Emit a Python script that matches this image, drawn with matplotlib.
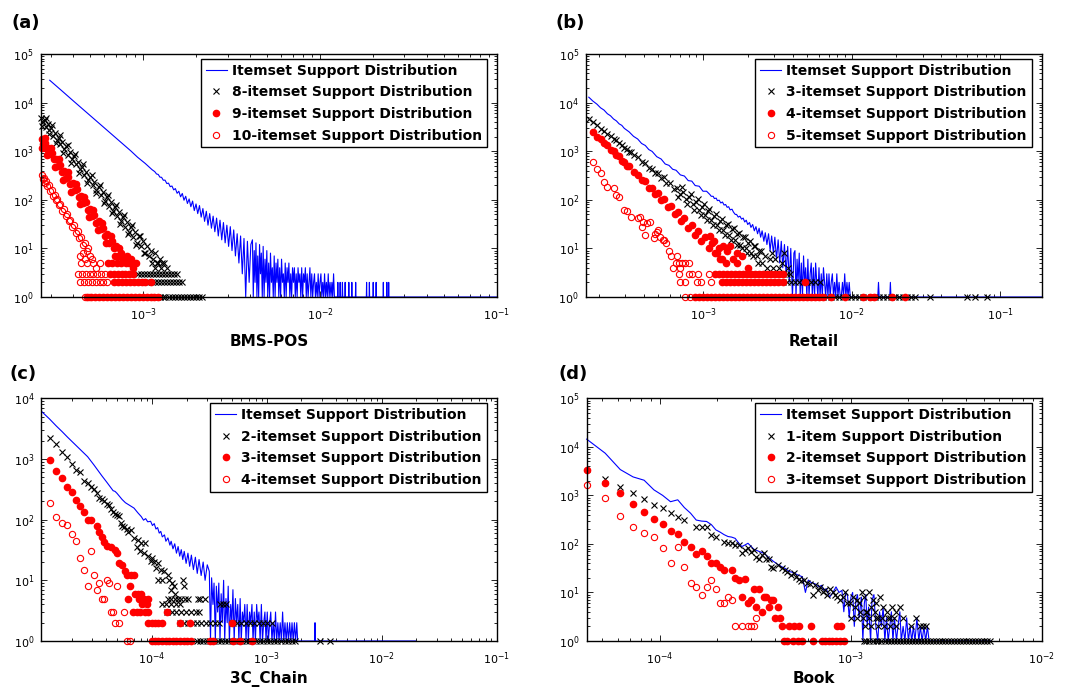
import numpy as np
import matplotlib.pyplot as plt

# number of transactions in each dataset, support = count / N
bms_N = 515597
retail_N = 88162
chain_N = 545000
book_N = 96800

# (support count, number of itemsets having that support)
bms_all = [(153, 28800), (165, 22700), (180, 17200), (195, 13300), (210, 10500), (230, 7900), (250, 6050),
           (275, 4470), (300, 3390), (330, 2500), (360, 1900), (400, 1360), (440, 1010), (480, 750), (530, 560),
           (580, 415), (600, 380), (614, 340), (628, 332), (642, 292), (656, 290), (671, 252), (686, 254),
           (702, 216), (718, 220), (734, 186), (751, 192), (768, 160), (785, 170), (803, 136), (821, 150),
           (840, 115), (859, 135), (878, 98), (898, 118), (918, 84), (939, 104), (960, 72), (982, 94), (1004, 60),
           (1027, 82), (1050, 52), (1074, 76), (1098, 44), (1123, 66), (1148, 36), (1174, 58), (1200, 30),
           (1227, 52), (1255, 26), (1283, 46), (1312, 22), (1342, 42), (1372, 18), (1403, 38), (1435, 15),
           (1467, 34), (1500, 13), (1534, 30), (1569, 11), (1604, 28), (1640, 9), (1677, 24), (1715, 7),
           (1754, 20), (1794, 5), (1834, 18), (1875, 3), (1917, 16), (1960, 1), (2004, 14), (2050, 2), (2096, 12),
           (2140, 15), (2163, 1), (2190, 9), (2214, 2), (2240, 13), (2268, 1), (2292, 7), (2320, 1), (2347, 12),
           (2375, 3), (2402, 8), (2432, 1), (2460, 11), (2490, 1), (2520, 6), (2551, 2), (2580, 9), (2612, 1),
           (2643, 5), (2675, 1), (2706, 8), (2740, 2), (2772, 4), (2806, 1), (2840, 7), (2873, 1), (2908, 5),
           (2944, 2), (2978, 6), (3015, 1), (3050, 4), (3088, 1), (3125, 6), (3162, 2), (3200, 3), (3240, 1),
           (3278, 5), (3318, 1), (3357, 4), (3398, 2), (3438, 5), (3480, 1), (3521, 3), (3563, 1), (3606, 4),
           (3650, 2), (3693, 4), (3737, 1), (3782, 3), (3828, 1), (3873, 4), (3920, 2), (3967, 3), (4014, 1),
           (4062, 4), (4110, 1), (4160, 3), (4210, 2), (4260, 4), (4311, 1), (4362, 3), (4415, 1), (4468, 2),
           (4521, 4), (4576, 1), (4630, 3), (4686, 1), (4742, 2), (4799, 3), (4856, 1), (4914, 2), (4973, 1),
           (5033, 3), (5093, 1), (5154, 2), (5216, 3), (5278, 1), (5341, 2), (5405, 1), (5470, 3), (5536, 1),
           (5602, 2), (5669, 1), (5737, 3), (5806, 1), (5875, 2), (5946, 1), (6017, 2), (6080, 1), (6150, 3),
           (6220, 1), (6470, 1), (6500, 2), (6530, 1), (6670, 1), (6700, 2), (6730, 1), (6870, 1), (6900, 2),
           (6930, 1), (7120, 1), (7150, 2), (7180, 1), (7470, 1), (7500, 2), (7530, 1), (7770, 1), (7800, 2),
           (7830, 1), (8170, 1), (8200, 2), (8230, 1), (9420, 1), (9450, 2), (9480, 1), (9770, 1), (9800, 2),
           (9830, 1), (10270, 1), (10300, 2), (10330, 1), (10670, 1), (10700, 2), (10730, 1), (11720, 1),
           (11750, 2), (11780, 1), (12270, 1), (12300, 2), (12330, 1), (12570, 1), (12600, 2), (12630, 1),
           (51500, 1)]
bms_8 = [(137, 4900), (140, 3900), (143, 4300), (146, 3200), (149, 3700), (152, 2700), (156, 3000), (160, 2100),
         (164, 2400), (168, 1700), (172, 1900), (176, 1400), (180, 1550), (185, 1100), (190, 1250), (195, 850),
         (200, 980), (205, 680), (210, 780), (216, 540), (222, 600), (228, 420), (234, 480), (240, 330), (246, 380),
         (253, 260), (260, 300), (267, 200), (274, 235), (281, 160), (289, 185), (297, 125), (305, 145), (313, 95),
         (321, 115), (330, 76), (339, 90), (348, 58), (357, 72), (367, 46), (377, 56), (387, 36), (397, 44),
         (408, 28), (419, 35), (430, 22), (442, 27), (454, 17), (466, 22), (478, 13), (491, 18), (504, 11),
         (518, 14), (532, 8), (546, 11), (560, 7), (575, 9), (590, 6), (605, 8), (620, 5), (640, 6), (660, 5),
         (139, 3250), (145, 4800), (151, 2220), (158, 3400), (166, 1450), (174, 2190), (183, 930), (193, 1370),
         (203, 580), (213, 870), (225, 363), (237, 537), (250, 225), (264, 328), (278, 138), (293, 204),
         (309, 86), (326, 126), (343, 53), (362, 78), (382, 32), (403, 48), (425, 20), (448, 30), (472, 12),
         (497, 18), (525, 8),
         (580, 5), (605, 4), (630, 5), (655, 4), (680, 5), (700, 4),
         (483, 3), (502, 3), (522, 3), (543, 3), (565, 3), (588, 3), (611, 3), (636, 3), (661, 3), (688, 3),
         (715, 3), (744, 3), (774, 3), (805, 3),
         (515, 2), (536, 2), (557, 2), (580, 2), (603, 2), (627, 2), (652, 2), (678, 2), (705, 2), (733, 2),
         (762, 2), (793, 2), (825, 2), (858, 2),
         (565, 1), (590, 1), (615, 1), (640, 1), (665, 1), (690, 1), (720, 1), (750, 1), (780, 1), (810, 1),
         (845, 1), (880, 1), (915, 1), (950, 1), (990, 1), (1030, 1), (1070, 1), (1110, 1)]
bms_9 = [(138, 1750), (141, 1400), (144, 1450), (147, 1100), (150, 1180), (154, 860), (158, 900), (162, 680),
         (166, 700), (170, 500), (175, 520), (180, 370), (185, 390), (190, 280), (195, 300), (200, 210), (206, 220),
         (212, 160), (218, 165), (224, 115), (230, 120), (237, 84), (244, 90), (251, 62), (258, 66), (265, 46),
         (273, 48), (281, 34), (289, 36), (297, 25), (306, 26), (315, 18), (324, 20), (333, 13), (343, 14),
         (353, 10), (363, 11), (374, 7), (385, 8), (396, 6), (408, 6), (420, 7), (430, 5), (440, 6), (455, 4),
         (470, 5),
         (139, 1150), (143, 1850), (148, 815), (156, 1180), (164, 470), (173, 680), (183, 260), (193, 375),
         (203, 148), (215, 210), (227, 81), (240, 116), (254, 44), (269, 62), (285, 24), (301, 34), (319, 13),
         (338, 18), (358, 7), (379, 10),
         (327, 5), (345, 5), (365, 5), (388, 5), (413, 5),
         (334, 3), (352, 3), (370, 3), (390, 3), (410, 3), (432, 3), (455, 3),
         (353, 2), (372, 2), (392, 2), (413, 2), (435, 2), (458, 2), (482, 2), (507, 2), (530, 2), (573, 2),
         (249, 1), (262, 1), (276, 1), (291, 1), (306, 1), (322, 1), (339, 1), (357, 1), (376, 1), (396, 1),
         (417, 1), (439, 1), (462, 1), (487, 1), (513, 1), (540, 1), (568, 1), (598, 1), (630, 1)]
bms_10 = [(138, 330), (140, 270), (142, 285), (144, 225), (146, 240), (148, 190), (151, 200), (154, 150),
          (157, 160), (160, 120), (163, 128), (166, 97), (169, 104), (172, 78), (176, 82), (180, 60), (184, 64),
          (188, 46), (192, 50), (196, 36), (200, 39), (205, 28), (210, 30), (215, 21), (220, 23), (225, 16),
          (230, 17), (236, 12), (242, 13), (248, 9), (226, 7), (241, 6), (252, 10), (258, 7), (229, 5), (250, 5),
          (281, 4), (294, 5), (265, 6), (235, 8), (270, 5),
          (221, 3), (232, 3), (244, 3), (257, 3), (270, 3), (284, 3), (299, 3), (314, 3),
          (228, 2), (240, 2), (252, 2), (265, 2), (279, 2), (293, 2), (308, 2), (323, 2),
          (243, 1), (255, 1)]

retail_all = [(15, 12900), (16, 10700), (17, 9300), (18, 7800), (19, 7000), (20, 5900), (21, 5350), (22, 4600),
              (23, 4200), (24, 3650), (25, 3400), (26, 2950), (28, 2500), (30, 2020), (32, 1780), (34, 1440),
              (36, 1310), (38, 1080), (40, 990), (43, 770), (46, 690), (49, 545), (52, 510), (55, 425), (58, 405),
              (62, 325), (66, 308), (70, 248), (74, 242), (78, 196), (83, 190), (88, 150), (93, 150), (98, 128),
              (100, 118), (103, 118), (105, 106), (108, 108), (110, 96), (113, 98), (116, 86), (119, 90), (122, 78),
              (125, 80), (128, 70), (131, 72), (134, 62), (138, 64), (141, 56), (145, 50), (148, 50), (152, 44),
              (156, 46), (160, 40), (164, 42), (168, 35), (172, 38), (176, 31), (181, 34), (185, 27), (190, 31),
              (195, 23), (200, 28), (205, 20), (210, 26), (215, 17), (220, 23), (226, 14), (231, 21), (237, 12),
              (243, 20), (249, 9), (255, 18), (262, 8), (268, 17), (275, 6), (282, 15), (289, 5), (296, 14),
              (303, 4), (311, 12), (319, 3), (327, 11), (335, 2), (343, 10), (352, 1), (360, 8),
              (366, 9), (372, 1), (378, 6), (384, 2), (391, 8), (397, 1), (404, 5), (411, 1), (418, 7), (425, 2),
              (432, 4), (440, 1), (447, 6), (455, 1), (463, 3), (471, 5), (479, 1), (487, 4), (496, 1), (504, 5),
              (513, 2), (522, 1), (531, 4), (540, 1), (550, 3), (559, 1), (569, 4), (579, 2), (589, 1), (599, 3),
              (610, 1), (620, 3), (631, 1), (642, 2), (653, 3), (665, 1), (676, 2), (688, 1), (700, 3), (712, 1),
              (725, 2), (738, 1), (750, 1), (764, 2), (777, 1), (791, 3), (805, 1), (819, 2), (833, 1), (848, 2),
              (862, 1), (1320, 1), (1335, 2), (1350, 1), (1590, 1), (1605, 2), (1620, 1), (16700, 1)]
retail_3 = [(15, 4500), (16, 3900), (17, 3450), (18, 2900), (19, 2650), (20, 2250), (21, 2080), (22, 1780),
            (23, 1660), (24, 1440), (25, 1360), (26, 1180), (27, 1130), (28, 980), (29, 950), (30, 820), (32, 750),
            (34, 600), (36, 570), (38, 455), (40, 440), (42, 355), (44, 350), (46, 280), (48, 290), (50, 225),
            (53, 225), (56, 170), (59, 178), (62, 132), (65, 142), (68, 104), (71, 116), (75, 80), (79, 90),
            (83, 62), (87, 72), (91, 48), (95, 58), (100, 38), (105, 46), (110, 30), (115, 37), (120, 24),
            (126, 30), (132, 19), (138, 25), (144, 15), (150, 20), (157, 12), (164, 17), (171, 10), (178, 13),
            (186, 8), (194, 11), (202, 7), (211, 9), (220, 5), (229, 7), (238, 4), (248, 6), (258, 8), (262, 4),
            (270, 6), (285, 4), (300, 5), (310, 8), (330, 4),
            (60, 113), (64, 181), (69, 81), (73, 131), (77, 61), (81, 102), (85, 48), (89, 81), (93, 39), (97, 66),
            (102, 31), (107, 51), (112, 24), (118, 41), (124, 19), (130, 32), (136, 15), (142, 26), (148, 12),
            (154, 21), (161, 10), (168, 17), (175, 8), (182, 14), (190, 7), (198, 11), (207, 5), (216, 9),
            (156, 3), (166, 3), (176, 3), (187, 3), (199, 3), (212, 3), (225, 3), (240, 3), (255, 3), (271, 3),
            (288, 3), (306, 3), (325, 3), (340, 3),
            (305, 2), (324, 2), (345, 2), (367, 2), (390, 2), (415, 2), (442, 2), (470, 2), (500, 2), (541, 2),
            (415, 1), (442, 1), (470, 1), (500, 1), (532, 1), (566, 1), (602, 1), (641, 1), (682, 1), (726, 1),
            (772, 1), (822, 1), (875, 1), (931, 1), (990, 1), (1054, 1), (1121, 1), (1193, 1), (1270, 1),
            (1350, 1), (1437, 1), (1530, 1), (1628, 1), (1732, 1), (1843, 1), (1960, 1), (2090, 1), (2220, 1),
            (2360, 1), (2980, 1), (5260, 1), (5990, 1), (7180, 1)]
retail_4 = [(16, 2450), (17, 2000), (18, 1800), (19, 1450), (20, 1320), (21, 1080), (22, 1000), (23, 820),
            (24, 780), (25, 640), (26, 610), (27, 500), (28, 490), (30, 370), (32, 330), (34, 250), (36, 240),
            (38, 175), (40, 175), (42, 130), (44, 135), (46, 98), (48, 104), (51, 70), (54, 76), (57, 50), (60, 56),
            (63, 36), (66, 42), (70, 26), (74, 31), (78, 19), (82, 23), (86, 14), (91, 17), (96, 10), (101, 13),
            (106, 8), (112, 10), (118, 6), (98, 18), (104, 14), (109, 8), (120, 11), (128, 9), (134, 11), (140, 6),
            (149, 5), (160, 7), (178, 4), (126, 5), (115, 6), (150, 8),
            (106, 3), (113, 3), (120, 3), (128, 3), (136, 3), (145, 3), (154, 3), (164, 3), (175, 3), (186, 3),
            (198, 3), (210, 3), (224, 3), (238, 3), (253, 3), (270, 3), (287, 3), (305, 3),
            (118, 2), (126, 2), (134, 2), (143, 2), (152, 2), (162, 2), (172, 2), (183, 2), (195, 2), (207, 2),
            (220, 2), (235, 2), (250, 2), (266, 2), (283, 2), (305, 2), (428, 2),
            (78, 1), (83, 1), (88, 1), (94, 1), (100, 1), (106, 1), (113, 1), (120, 1), (128, 1), (136, 1),
            (145, 1), (154, 1), (164, 1), (175, 1), (186, 1), (198, 1), (210, 1), (224, 1), (238, 1), (253, 1),
            (270, 1), (287, 1), (305, 1), (325, 1), (345, 1), (367, 1), (391, 1), (416, 1), (443, 1), (471, 1),
            (501, 1), (533, 1), (567, 1), (640, 1), (790, 1), (1057, 1), (1176, 1), (1240, 1), (1645, 1),
            (2022, 1)]
retail_5 = [(16, 600), (17, 427), (18, 355), (19, 234), (20, 186), (22, 174), (23, 126), (24, 115), (26, 62),
            (27, 58), (29, 45), (32, 42), (33, 45), (34, 28), (35, 35), (37, 33), (36, 19), (39, 35), (41, 16),
            (42, 20), (43, 22), (44, 24), (45, 17), (47, 15), (48, 15), (50, 13), (52, 9), (54, 7), (59, 7),
            (55, 4), (58, 5), (62, 4), (61, 5), (64, 5), (67, 5), (71, 5),
            (61, 3), (71, 3), (74, 3), (82, 3), (96, 3), (62, 2), (67, 2), (80, 2), (85, 2), (99, 2),
            (67, 1), (72, 1)]

chain_all = [(6, 6000), (7, 4550), (8, 3500), (9, 2820), (10, 2300), (11, 1930), (12, 1650), (13, 1420),
             (14, 1240), (15, 1090), (16, 930), (17, 800), (18, 690), (19, 600), (20, 525), (22, 415), (24, 332),
             (25, 300), (26, 292), (27, 272), (28, 250), (30, 214), (32, 190), (35, 171), (38, 155), (41, 130),
             (44, 112), (46, 98), (48, 104), (50, 92), (53, 94), (55, 80), (57, 86), (59, 70), (61, 74), (63, 60),
             (65, 64), (67, 52), (70, 56), (72, 44), (75, 50), (78, 38), (80, 44), (83, 33), (86, 40), (89, 28),
             (92, 36), (95, 25), (98, 32), (101, 22), (104, 30), (108, 19), (112, 28), (116, 17), (120, 26),
             (125, 15), (130, 24), (135, 13), (140, 22), (146, 12), (152, 20), (158, 10), (165, 18),
             (172, 14), (176, 1), (180, 11), (185, 4), (189, 9), (194, 1), (198, 8), (203, 3), (208, 9), (213, 1),
             (218, 6), (223, 2), (229, 10), (234, 1), (240, 5), (246, 2), (251, 8), (257, 1), (264, 4), (270, 2),
             (276, 7), (283, 1), (290, 5), (297, 2), (304, 4), (311, 1), (319, 5), (326, 1), (334, 3), (342, 2),
             (350, 4), (359, 1), (367, 4), (376, 1), (385, 3), (394, 2), (404, 4), (413, 1), (423, 3), (433, 1),
             (444, 4), (454, 2), (465, 3), (476, 1), (488, 4), (499, 1), (511, 2), (524, 3), (536, 1), (549, 3),
             (562, 1), (576, 2), (589, 3), (603, 1), (618, 2), (633, 1), (648, 3), (663, 1), (679, 2), (695, 1),
             (712, 2), (729, 1), (747, 3), (765, 1), (783, 2), (802, 1), (821, 2), (840, 1), (861, 2), (881, 1),
             (902, 2), (924, 1), (946, 2), (969, 1), (992, 2), (1010, 1), (1420, 1), (1430, 2), (1440, 1),
             (10700, 1)]
chain_2 = [(7, 2240), (8, 1760), (9, 1290), (10, 1090), (11, 830), (12, 655), (13, 615), (14, 437), (15, 400),
           (16, 348), (17, 316), (18, 270), (19, 224), (20, 215), (21, 200), (22, 180), (23, 174), (24, 150),
           (25, 135), (26, 126), (27, 120), (28, 115), (29, 87), (30, 80), (31, 76), (33, 69), (34, 62), (36, 68),
           (38, 50), (40, 36), (41, 46), (43, 30), (44, 41), (46, 28), (47, 41), (50, 25), (53, 21), (55, 23),
           (57, 20), (59, 16), (61, 19), (62, 10), (65, 15), (67, 10), (70, 14), (75, 12), (77, 10), (79, 7),
           (82, 9), (85, 8), (87, 6), (101, 10), (104, 8),
           (75, 5), (80, 5), (86, 5), (92, 5), (98, 5), (105, 5), (112, 5), (136, 5), (142, 5), (157, 5),
           (66, 4), (72, 4), (80, 4), (88, 4), (96, 4), (214, 4), (228, 4), (242, 4),
           (74, 3), (81, 3), (89, 3), (98, 3), (108, 3), (119, 3), (131, 3), (141, 3),
           (95, 2), (104, 2), (113, 2), (124, 2), (135, 2), (147, 2), (160, 2), (175, 2), (191, 2), (208, 2),
           (275, 2), (300, 2), (327, 2), (357, 2), (390, 2), (425, 2), (463, 2), (505, 2), (550, 2), (600, 2),
           (133, 1), (143, 1), (153, 1), (164, 1), (176, 1), (189, 1), (203, 1), (218, 1), (234, 1), (251, 1),
           (269, 1), (289, 1), (310, 1), (333, 1), (357, 1), (383, 1), (411, 1), (441, 1), (473, 1), (508, 1),
           (545, 1), (585, 1), (628, 1), (674, 1), (723, 1), (776, 1), (833, 1), (894, 1), (959, 1), (1580, 1),
           (1940, 1)]
chain_3 = [(7, 960), (8, 630), (9, 480), (10, 350), (11, 282), (12, 210), (13, 167), (14, 135), (15, 100),
           (16, 100), (18, 78), (19, 63), (20, 52), (21, 43), (22, 37), (24, 36), (26, 32), (27, 28), (28, 19),
           (30, 18), (32, 14), (33, 12), (36, 12), (38, 12), (35, 8), (39, 6), (41, 6), (44, 6), (34, 5),
           (42, 5), (46, 5), (50, 5), (45, 4), (49, 4),
           (37, 3), (40, 3), (43, 3), (47, 3), (50, 3), (73, 3),
           (50, 2), (54, 2), (58, 2), (62, 2), (66, 2), (95, 2), (116, 2), (269, 2),
           (54, 1), (58, 1), (62, 1), (67, 1), (72, 1), (77, 1), (83, 1), (89, 1), (96, 1), (103, 1), (109, 1),
           (120, 1), (173, 1), (185, 1), (277, 1), (317, 1), (401, 1)]
chain_4 = [(7, 190), (8, 112), (9, 87), (10, 81), (11, 58), (12, 45), (16, 30), (13, 23), (14, 15), (17, 12),
           (19, 9), (22, 10), (23, 9), (27, 8), (15, 8), (18, 7), (21, 5), (20, 5), (24, 3), (25, 3), (26, 2),
           (28, 2), (31, 3), (33, 1), (35, 1)]

book_all = [(4, 14400), (5, 7400), (6, 3400), (7, 2400), (8, 2050), (9, 1300), (10, 1000), (11, 740), (12, 810),
            (13, 560), (14, 430), (15, 310), (16, 295), (17, 290), (18, 250), (19, 195), (20, 175), (21, 155),
            (22, 142), (23, 138), (24, 130), (25, 105), (26, 88), (27, 95), (28, 103), (29, 90), (30, 78),
            (32, 70), (34, 64), (36, 52), (38, 44), (40, 38), (42, 34), (44, 31), (46, 27), (48, 26), (51, 23),
            (54, 21), (56, 10), (58, 18), (60, 16), (63, 15), (66, 13), (68, 14), (70, 11), (72, 12), (75, 8),
            (78, 10), (81, 13), (84, 10), (87, 11), (89, 4), (91, 10), (93, 9), (95, 3), (97, 8), (99, 10),
            (101, 2), (103, 7), (105, 9), (107, 3), (110, 8), (112, 1), (114, 6), (116, 9), (118, 2), (120, 5),
            (123, 1), (125, 7), (128, 9), (131, 2), (134, 1), (137, 4), (140, 2), (143, 5), (146, 1), (149, 3),
            (152, 1), (155, 2), (158, 4), (161, 1), (164, 3), (168, 1), (171, 2), (175, 4), (178, 1), (182, 2),
            (186, 1), (190, 3), (194, 1), (198, 2), (202, 1), (206, 2), (210, 1), (215, 3), (220, 1), (224, 2),
            (229, 1), (234, 2), (239, 1), (244, 2), (249, 1), (528, 1)]
book_1 = [(5, 2150), (6, 1480), (7, 1110), (8, 830), (9, 630), (10, 550), (11, 430), (12, 365), (13, 310),
          (15, 220), (16, 220), (17, 220), (18, 154), (19, 138), (21, 112), (22, 103), (23, 103), (24, 95),
          (25, 95), (26, 64), (27, 76), (28, 81), (29, 69), (30, 75), (31, 55), (32, 50), (33, 59), (34, 64),
          (35, 50), (36, 48), (37, 34), (38, 32), (40, 37), (42, 32), (44, 29), (45, 26), (47, 23), (49, 25),
          (50, 21), (52, 19), (53, 17), (55, 18), (57, 16), (59, 15), (61, 9), (63, 14), (65, 11), (67, 13),
          (69, 10), (71, 11), (73, 9), (75, 12), (78, 10), (80, 9), (82, 8), (85, 7), (88, 8), (90, 10),
          (92, 6), (96, 6), (99, 8), (102, 5), (104, 7), (107, 6), (111, 10), (113, 8), (116, 4), (120, 10),
          (123, 5), (127, 7), (129, 4), (132, 6), (135, 3), (138, 8), (142, 5), (150, 4), (155, 3), (160, 5),
          (168, 4), (176, 5), (181, 3), (213, 3), (231, 2), (240, 2),
          (108, 4), (118, 4),
          (97, 3), (104, 3), (112, 3), (121, 3), (131, 3), (141, 3), (152, 3), (164, 3),
          (115, 2), (124, 2), (134, 2), (145, 2), (156, 2), (168, 2), (200, 2), (222, 2),
          (113, 1), (117, 1), (121, 1), (126, 1), (131, 1), (135, 1), (140, 1), (146, 1), (151, 1), (157, 1),
          (163, 1), (169, 1), (175, 1), (181, 1), (188, 1), (195, 1), (202, 1), (210, 1), (218, 1), (226, 1),
          (234, 1), (243, 1), (252, 1), (261, 1), (271, 1), (281, 1), (291, 1), (302, 1), (313, 1), (325, 1),
          (337, 1), (349, 1), (362, 1), (376, 1), (390, 1), (404, 1), (419, 1), (435, 1), (451, 1), (467, 1),
          (485, 1), (503, 1), (521, 1)]
book_2 = [(4, 3370), (5, 1780), (6, 1110), (7, 665), (8, 465), (9, 325), (10, 259), (11, 188), (12, 161),
          (13, 112), (14, 88), (15, 61), (16, 73), (17, 57), (18, 40), (19, 40), (20, 34), (21, 29), (23, 29),
          (24, 20), (25, 18), (27, 19), (30, 12), (32, 12), (26, 8), (28, 6), (29, 7), (31, 5), (33, 4), (34, 8),
          (35, 8), (36, 5), (37, 7), (38, 7), (39, 3), (41, 3), (40, 5),
          (42, 2), (46, 2), (49, 2), (52, 2), (60, 2), (82, 2), (86, 2),
          (43, 1), (45, 1), (48, 1), (51, 1), (54, 1), (61, 1), (68, 1), (71, 1), (74, 1), (77, 1), (81, 1),
          (85, 1), (89, 1)]
book_3 = [(4, 1650), (5, 875), (6, 380), (7, 218), (8, 166), (9, 141), (10, 81), (11, 40), (12, 85), (13, 33),
          (14, 16), (15, 13), (16, 9), (17, 13), (18, 18), (19, 12), (20, 6), (21, 6), (22, 8), (23, 7),
          (24, 2), (26, 2), (28, 2), (29, 2), (30, 2), (31, 3)]


def split(pairs, N):
    a = np.array(pairs, dtype=float)
    return a[:, 0] / N, a[:, 1]


fig = plt.figure(figsize=(10.69, 6.91), dpi=100)


def panel(rect, N, series, labels, xlim, ymax, name, lpad, tag, tagpos):
    ax = fig.add_axes(rect)
    line_all, pts1, pts2, pts3 = series

    x, y = split(line_all, N)
    ax.plot(x, y, '-', color='b', lw=0.8, label=labels[0], clip_on=False)
    x, y = split(pts1, N)
    ax.plot(x, y, 'x', color='k', ms=4, mew=0.8, ls='none', label=labels[1], clip_on=False)
    x, y = split(pts2, N)
    ax.plot(x, y, 'o', color='r', mec='r', ms=4.5, ls='none', label=labels[2], clip_on=False)
    x, y = split(pts3, N)
    ax.plot(x, y, 'o', mfc='none', mec='r', ms=4.5, mew=0.8, ls='none', label=labels[3], clip_on=False)

    ax.set_xscale('log')
    ax.set_yscale('log')
    ax.set_xlim(xlim)
    ax.set_ylim(1, ymax)
    ax.tick_params(which='both', direction='in', top=True, right=True, width=0.6)
    ax.tick_params(which='major', length=4, labelsize=8)
    ax.tick_params(which='minor', length=2)
    ax.tick_params(axis='x', pad=7)
    ax.tick_params(axis='y', pad=5)
    for s in ax.spines.values():
        s.set_linewidth(1.0)

    ax.set_xlabel(name, fontsize=11, fontweight='bold', labelpad=lpad)

    leg = ax.legend(loc='upper right', bbox_to_anchor=(0.978, 0.98), borderaxespad=0,
                    prop={'weight': 'bold', 'size': 10}, fancybox=False, edgecolor='k',
                    framealpha=1, borderpad=0.35, labelspacing=0.55, handlelength=1.55,
                    handletextpad=0.35)
    leg.get_frame().set_linewidth(1.0)

    fig.text(tagpos[0], tagpos[1], tag, fontsize=13, fontweight='bold', va='top')
    return ax


panel([0.0381, 0.5702, 0.4268, 0.3517], bms_N, (bms_all, bms_8, bms_9, bms_10),
      ['Itemset Support Distribution', '8-itemset Support Distribution',
       '9-itemset Support Distribution', '10-itemset Support Distribution'],
      (2.64e-4, 0.1), 1e5, 'BMS-POS', 8, '(a)', (0.011, 0.98))

panel([0.5482, 0.5702, 0.4263, 0.3517], retail_N, (retail_all, retail_3, retail_4, retail_5),
      ['Itemset Support Distribution', '3-itemset Support Distribution',
       '4-itemset Support Distribution', '5-itemset Support Distribution'],
      (1.63e-4, 0.19), 1e5, 'Retail', 8, '(b)', (0.520, 0.98))

panel([0.0386, 0.0724, 0.4260, 0.3512], chain_N, (chain_all, chain_2, chain_3, chain_4),
      ['Itemset Support Distribution', '2-itemset Support Distribution',
       '3-itemset Support Distribution', '4-itemset Support Distribution'],
      (1.087e-5, 0.1), 1e4, '3C_Chain', 3, '(c)', (0.009, 0.472))

panel([0.5488, 0.0724, 0.4256, 0.3512], book_N, (book_all, book_1, book_2, book_3),
      ['Itemset Support Distribution', '1-item Support Distribution',
       '2-itemset Support Distribution', '3-itemset Support Distribution'],
      (4 / book_N, 1e-2), 1e5, 'Book', 3, '(d)', (0.522, 0.472))

plt.savefig('out.png')
